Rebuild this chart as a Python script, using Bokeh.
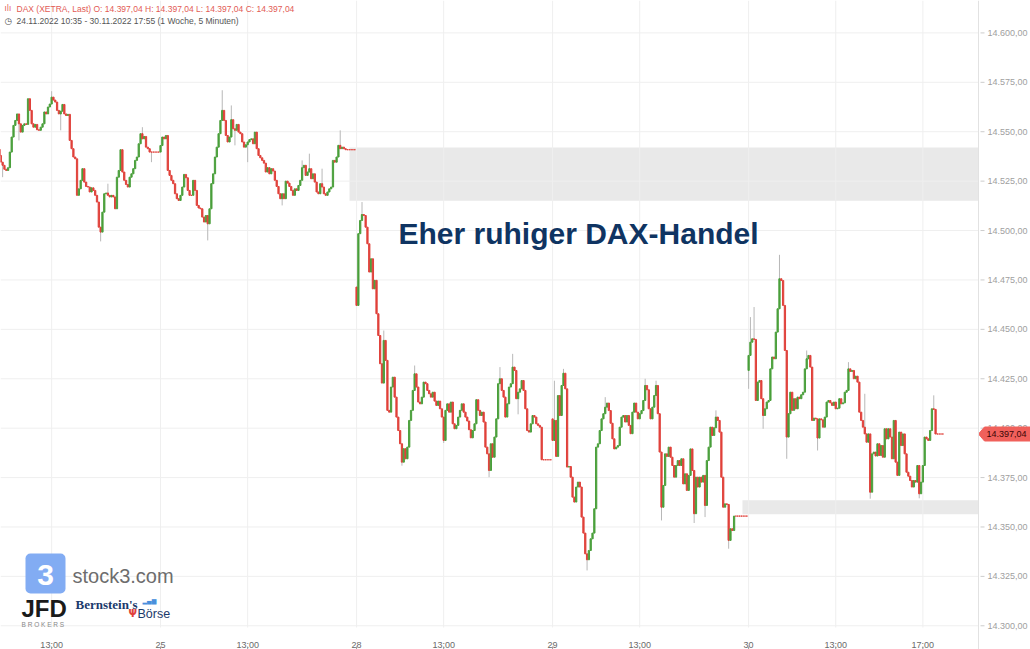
import numpy as np
from bokeh.plotting import figure
from bokeh.models import Label, BoxAnnotation, ColumnDataSource, Range1d, Span
from bokeh.embed import file_html
from bokeh.resources import INLINE
from bokeh.core.properties import value

# ---------------- data (5-minute closes) ----------------
c24 = [14538.0, 14534.6, 14533.0, 14531.0, 14530.4, 14531.8, 14539.7, 14547.3, 14553.2, 14555.7,
       14559.0, 14554.0, 14549.8, 14553.2, 14554.0, 14553.7, 14566.7, 14560.8, 14554.0, 14552.3,
       14553.7, 14551.0, 14550.7, 14552.3, 14554.0, 14560.0, 14559.0, 14562.5, 14564.0, 14567.5,
       14566.0, 14565.0, 14560.8, 14559.0, 14560.4, 14563.8, 14559.0, 14558.2, 14558.8, 14545.6,
       14541.4, 14537.2, 14536.3, 14517.8, 14521.1, 14525.4, 14531.3, 14524.5, 14522.3, 14522.0,
       14519.5, 14521.6, 14520.3, 14517.8, 14514.4, 14501.7, 14499.2, 14509.3, 14518.6, 14519.0,
       14517.8, 14517.0, 14517.8, 14517.0, 14511.0, 14527.0, 14530.4, 14540.9, 14529.6, 14525.4,
       14523.3, 14522.0, 14527.0, 14528.7, 14531.3, 14535.5, 14537.2, 14543.9, 14549.0, 14546.4,
       14547.6, 14542.2, 14541.4, 14539.7, 14539.7, 14539.7, 14539.7, 14539.7, 14539.7]
c25 = [14543.0, 14547.3, 14546.4, 14548.1, 14530.4, 14527.9, 14525.4, 14523.7, 14518.6, 14516.1,
       14515.2, 14517.8, 14522.0, 14528.4, 14526.7, 14520.3, 14517.8, 14517.8, 14525.4, 14520.3,
       14512.7, 14511.4, 14511.0, 14506.8, 14504.3, 14507.6, 14503.4, 14511.0, 14523.7, 14528.7,
       14537.2, 14542.2, 14549.0, 14555.7, 14560.8, 14555.7, 14548.1, 14544.8, 14547.3, 14556.1,
       14551.5, 14550.7, 14553.7, 14549.8, 14549.0, 14544.8, 14542.2, 14543.4, 14544.8, 14546.0,
       14546.4, 14543.9, 14549.8, 14541.4, 14538.0, 14536.8, 14535.5, 14534.1, 14529.6, 14531.8,
       14528.7, 14531.3, 14530.1, 14525.4, 14522.3, 14518.6, 14516.1, 14518.6, 14516.1, 14525.0,
       14524.0, 14522.3, 14520.3, 14517.8, 14521.1, 14520.3, 14522.8, 14525.4, 14531.8, 14533.0,
       14527.9, 14529.6, 14531.3, 14526.2, 14528.7, 14524.5, 14519.5, 14518.6, 14523.7, 14522.0,
       14518.6, 14517.8, 14519.5, 14521.1, 14522.0, 14535.5, 14534.6, 14537.2, 14543.1, 14541.4,
       14542.2, 14541.4, 14540.9, 14540.9, 14540.9, 14540.9, 14540.9, 14540.9]
c28 = [14462.1, 14498.4, 14505.1, 14508.1, 14507.6, 14501.7, 14493.3, 14479.0, 14485.7, 14470.5,
       14474.8, 14457.9, 14446.9, 14432.6, 14422.8, 14444.4, 14434.3, 14409.0, 14408.1, 14420.8,
       14425.8, 14415.7, 14405.6, 14398.8, 14392.1, 14382.8, 14389.6, 14384.5, 14390.4, 14403.9,
       14409.0, 14419.1, 14427.5, 14420.8, 14413.2, 14412.3, 14415.7, 14423.3, 14422.5, 14419.1,
       14417.4, 14415.7, 14418.2, 14413.7, 14411.5, 14413.7, 14409.8, 14405.6, 14393.8, 14409.0,
       14412.3, 14408.1, 14413.2, 14402.2, 14399.7, 14401.4, 14405.6, 14409.0, 14412.3, 14408.1,
       14405.6, 14403.6, 14399.2, 14395.1, 14398.8, 14402.2, 14414.4, 14409.0, 14406.4, 14408.1,
       14403.1, 14390.4, 14387.0, 14378.6, 14392.1, 14385.3, 14395.5, 14404.7, 14422.5, 14425.0,
       14419.1, 14415.7, 14405.6, 14412.3, 14420.8, 14422.5, 14430.9, 14429.2, 14414.9, 14418.2,
       14419.9, 14424.1, 14419.1, 14409.8, 14398.8, 14398.0, 14402.2, 14406.4, 14405.6, 14402.2,
       14401.4, 14400.5, 14384.0, 14384.0, 14384.0, 14384.0, 14384.0, 14384.0]
c29 = [14393.8, 14403.9, 14385.7, 14416.5, 14406.4, 14421.6, 14427.8, 14419.9, 14380.3, 14380.6,
       14375.2, 14365.1, 14362.6, 14370.2, 14372.7, 14370.2, 14355.0, 14346.9, 14336.4, 14333.4,
       14338.1, 14344.0, 14346.9, 14359.2, 14390.4, 14392.1, 14398.8, 14404.7, 14407.3, 14410.6,
       14412.7, 14408.9, 14402.5, 14394.6, 14389.5, 14390.4, 14391.2, 14400.5, 14405.6, 14406.4,
       14403.1, 14406.4, 14401.4, 14397.2, 14408.1, 14412.7, 14408.1, 14404.7, 14407.3, 14408.9,
       14414.0, 14421.6, 14419.4, 14409.8, 14404.7, 14410.6, 14416.5, 14421.6, 14407.3, 14387.9,
       14360.0, 14371.0, 14387.0, 14385.7, 14390.4, 14385.3, 14381.1, 14375.2, 14381.1, 14383.6,
       14381.1, 14384.5, 14371.8, 14376.9, 14368.5, 14376.1, 14389.5, 14378.6, 14356.7, 14375.2,
       14370.2, 14375.2, 14372.7, 14376.1, 14360.9, 14383.6, 14390.4, 14400.5, 14396.3, 14400.2,
       14405.6, 14403.9, 14398.0, 14375.2, 14360.0, 14361.7, 14361.4, 14343.2, 14349.1, 14348.2,
       14355.5, 14355.5, 14355.5, 14355.5, 14355.5, 14355.5, 14355.5, 14355.5]
c30 = [14436.8, 14443.5, 14445.2, 14444.9, 14414.0, 14423.3, 14424.1, 14414.9, 14406.4, 14409.8,
       14413.2, 14414.0, 14430.0, 14436.0, 14435.1, 14448.6, 14460.4, 14475.6, 14474.7, 14462.1,
       14439.3, 14395.5, 14407.3, 14418.2, 14409.0, 14414.9, 14409.8, 14415.7, 14414.9, 14416.9,
       14418.2, 14430.0, 14435.1, 14436.8, 14430.9, 14403.9, 14405.1, 14404.7, 14395.0, 14404.7,
       14404.2, 14400.5, 14405.6, 14413.2, 14414.0, 14412.8, 14411.5, 14413.2, 14409.8, 14410.1,
       14414.9, 14412.3, 14412.8, 14418.2, 14419.1, 14430.0, 14428.7, 14429.2, 14425.0, 14426.3,
       14423.3, 14408.1, 14403.9, 14400.5, 14397.1, 14392.9, 14397.1, 14367.6, 14387.0, 14387.9,
       14385.9, 14392.1, 14386.2, 14391.2, 14385.3, 14399.7, 14394.6, 14399.7, 14395.5, 14384.5,
       14403.9, 14382.8, 14376.1, 14398.0, 14391.2, 14397.1, 14387.0, 14377.7, 14375.7, 14373.5,
       14370.2, 14373.5, 14372.7, 14381.1, 14366.8, 14372.7, 14381.1, 14395.5, 14394.6, 14393.8,
       14398.8, 14409.8, 14409.5, 14397.04, 14397.04, 14397.04, 14397.04, 14397.04]

# opening prices of the bars that open with a gap (other bars open at the previous close)
session_open = {0: 14541.0, 197: 14471.4, 305: 14404.7, 413: 14429.2}
# notable wicks (bar number -> price)
wick_high = {29: 14570.5, 60: 14523.7, 79: 14552.3, 123: 14571.0, 128: 14563.3, 167: 14535.5,
             171: 14538.9, 178: 14531.3, 188: 14550.7, 200: 14514.4, 212: 14449.4, 229: 14431.7,
             276: 14430.9, 283: 14437.6, 306: 14424.0, 311: 14430.0, 334: 14415.7, 356: 14425.0,
             362: 14424.0, 395: 14409.0, 414: 14456.2, 416: 14461.3, 430: 14487.7, 445: 14439.3,
             468: 14433.4, 477: 14417.4, 515: 14416.6}
wick_low = {2: 14527.0, 11: 14545.6, 34: 14550.7, 56: 14494.5, 84: 14534.6, 115: 14495.0,
            130: 14543.1, 137: 14534.6, 156: 14512.7, 222: 14381.0, 245: 14392.5, 270: 14375.2,
            286: 14407.0, 324: 14328.0, 365: 14353.3, 383: 14352.0, 389: 14355.0, 402: 14339.0,
            413: 14419.9, 421: 14399.7, 434: 14384.5, 451: 14388.7, 480: 14364.3, 507: 14364.5}

x_tick_bars = [29, 89, 137, 197, 245, 305, 353, 413, 461, 509]
x_tick_labels = ["13:00", "25", "13:00", "28", "13:00", "29", "13:00", "30", "13:00", "17:00"]
y_ticks = [14300, 14325, 14350, 14375, 14400, 14425, 14450, 14475, 14500, 14525, 14550, 14575, 14600]
last_price = 14397.04
# untouched gap zones: (first bar, low price, high price)
gap_zones = [(193.1, 14515.1, 14542.0), (409.6, 14356.5, 14363.5)]

header_1 = "DAX (XETRA, Last)  O: 14.397,04  H: 14.397,04  L: 14.397,04  C: 14.397,04"
header_2 = "24.11.2022 10:35 - 30.11.2022 17:55  (1 Woche, 5 Minuten)"
title = "Eher ruhiger DAX-Handel"

# ---------------- build ----------------
def de(v, d=2):
    s = f"{v:,.{d}f}"
    return s.replace(",", "X").replace(".", ",").replace("X", ".")

closes = c24 + c25 + c28 + c29 + c30
n = len(closes)
opens = [session_open.get(i, closes[i - 1] if i > 0 else closes[0]) for i in range(n)]
GREEN = "#4a9f3b"
RED = "#e0403a"
tops = [max(o, c) for o, c in zip(opens, closes)]
bots = [min(o, c) for o, c in zip(opens, closes)]
cols = [GREEN if c > o else RED for o, c in zip(opens, closes)]
src = ColumnDataSource(dict(x=list(range(n)), top=tops, bot=bots, color=cols))

wk = sorted(set(wick_high) | set(wick_low))
wsrc = ColumnDataSource(dict(
    x=wk,
    hi=[wick_high.get(i, tops[i]) for i in wk],
    lo=[wick_low.get(i, bots[i]) for i in wk],
))

W, H = 1030, 649
X0, X1 = 0.83, 568.3         # visible bar range
Y0, Y1 = 14288.0, 14616.4    # visible price range

# canvas pixel -> data coordinate (for decorations)
def rx(px):
    return X0 + px * (X1 - X0) / W

def ry(py):
    return Y1 - py * (Y1 - Y0) / H

AX = rx(978)  # price-axis line

p = figure(width=W, height=H, x_range=Range1d(X0, X1), y_range=Range1d(Y0, Y1),
           x_axis_location=None, y_axis_location=None, output_backend="svg", toolbar_location=None,
           min_border=0, min_border_left=0, min_border_top=0, min_border_bottom=0, min_border_right=0,
           outline_line_color=None, background_fill_color="white", border_fill_color="white")
p.grid.visible = False

FONT = "Liberation Sans"
GRID = "#efefef"

# grid lines
p.segment(x0=x_tick_bars, x1=x_tick_bars, y0=[ry(627)] * len(x_tick_bars), y1=[Y1] * len(x_tick_bars),
          line_color=GRID, line_width=1)
p.segment(x0=[X0] * len(y_ticks), x1=[AX] * len(y_ticks), y0=y_ticks, y1=y_ticks,
          line_color=GRID, line_width=1)

for left, lo, hi in gap_zones:
    p.add_layout(BoxAnnotation(left=left, right=AX, bottom=lo, top=hi, fill_color="#e9e9e9", fill_alpha=1,
                               line_color=None, level="underlay"))

# candles
p.segment(x0="x", y0="lo", x1="x", y1="hi", source=wsrc, line_color="#b8b8b8", line_width=1)
p.vbar(x="x", top="top", bottom="bot", width=0.7, fill_color="color", line_color="color",
       line_width=1, source=src)

# price axis (right)
p.add_layout(Span(location=AX, dimension="height", line_color="#e2e2e2", line_width=1))
p.segment(x0=[rx(980)] * len(y_ticks), x1=[rx(984)] * len(y_ticks), y0=y_ticks, y1=y_ticks,
          line_color="#cccccc", line_width=1)
p.text(x=[rx(987)] * len(y_ticks), y=y_ticks, text=[de(t) for t in y_ticks], text_font=value(FONT),
       text_font_size="9px", text_color="#a0a0a0", text_baseline="middle")

# time axis (bottom)
p.text(x=x_tick_bars, y=[ry(644)] * len(x_tick_bars), text=x_tick_labels, text_font=value(FONT),
       text_font_size="9px", text_color="#6a6a6a", text_align="center", text_baseline="alphabetic")
p.segment(x0=x_tick_bars, x1=x_tick_bars, y0=[ry(646)] * len(x_tick_bars), y1=[ry(650)] * len(x_tick_bars),
          line_color="#999999", line_width=1)

# last price marker
hh = 7 * (Y1 - Y0) / H
p.patch(x=[AX, rx(984), rx(1031), rx(1031), rx(984)],
        y=[last_price, last_price + hh, last_price + hh, last_price - hh, last_price - hh],
        fill_color="#f0605b", line_color="#f0605b")
p.text(x=[rx(986)], y=[last_price], text=[de(last_price)], text_font=value(FONT), text_font_size="9px",
       text_color="#3a0505", text_baseline="middle")

# header
p.add_layout(Label(x=rx(4), y=ry(8), text="ılı", text_font="DejaVu Sans", text_font_size="8px",
                   text_color="#e25b55", text_baseline="middle"))
p.add_layout(Label(x=rx(16), y=ry(8), text=header_1, text_font=FONT, text_font_size="8.5px",
                   text_color="#e25b55", text_baseline="middle"))
p.add_layout(Label(x=rx(4), y=ry(20), text="◷", text_font="DejaVu Sans", text_font_size="9px",
                   text_color="#555555", text_baseline="middle"))
p.add_layout(Label(x=rx(16), y=ry(20), text=header_2, text_font=FONT, text_font_size="8.5px",
                   text_color="#555555", text_baseline="middle"))

# title
p.add_layout(Label(x=rx(398), y=ry(233), text=title, text_font=FONT, text_font_style="bold",
                   text_font_size="30px", text_color="#0f3462", text_baseline="middle"))

# logos
p.add_layout(BoxAnnotation(left=rx(25), right=rx(65), top=ry(553), bottom=ry(593), fill_color="#82acf3",
                           fill_alpha=1, line_color=None, border_radius=5))
p.add_layout(Label(x=rx(45), y=ry(574), text="3", text_font=FONT, text_font_style="bold",
                   text_font_size="30px", text_color="white", text_align="center", text_baseline="middle"))
p.add_layout(Label(x=rx(72), y=ry(575), text="stock3.com", text_font=FONT, text_font_size="20px",
                   text_color="#6d6d6d", text_baseline="middle"))
p.add_layout(Label(x=rx(21), y=ry(608), text="JFD", text_font=FONT, text_font_style="bold",
                   text_font_size="24px", text_color="#1a1a1a", text_baseline="middle"))
p.add_layout(Label(x=rx(21), y=ry(624), text="B R O K E R S", text_font=FONT, text_font_size="6.5px",
                   text_color="#888888", text_baseline="middle"))
p.add_layout(Label(x=rx(75), y=ry(604), text="Bernstein's", text_font="Liberation Serif",
                   text_font_style="bold", text_font_size="13px", text_color="#1b3a6b", text_baseline="middle"))
p.add_layout(Label(x=rx(142), y=ry(600), text="▂▄▆", text_font="DejaVu Sans", text_font_size="6px",
                   text_color="#4a8fdc", text_baseline="middle"))
p.add_layout(Label(x=rx(128), y=ry(613), text="Ψ", text_font="DejaVu Sans", text_font_style="bold",
                   text_font_size="10px", text_color="#e0403a", text_baseline="middle"))
p.add_layout(Label(x=rx(137), y=ry(613), text="Börse", text_font=FONT, text_font_size="12.5px",
                   text_color="#1b3a6b", text_baseline="middle"))

open("out.html", "w").write(file_html(p, INLINE))
